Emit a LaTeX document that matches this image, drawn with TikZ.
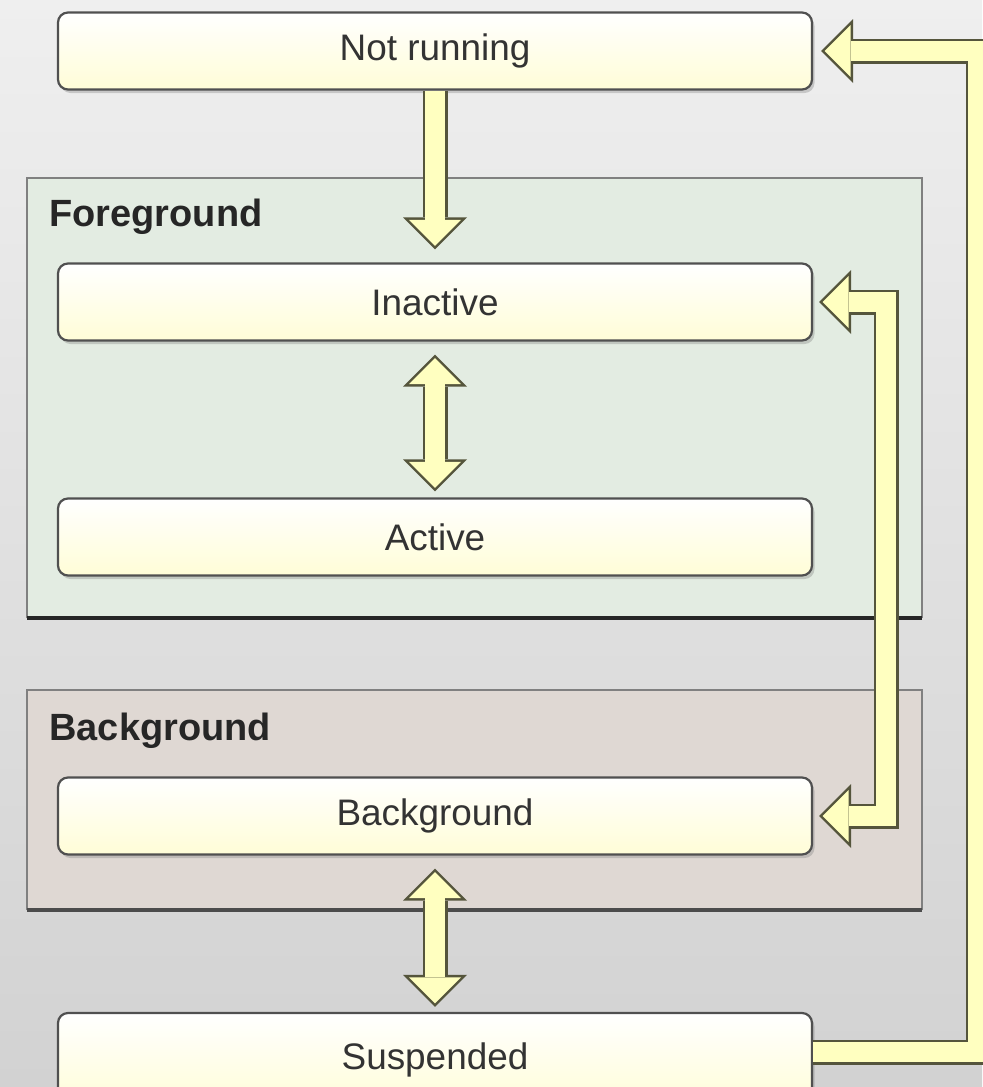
\documentclass[tikz,border=0pt]{standalone}
\usepackage{fontspec}
\setmainfont{Liberation Sans}
\usetikzlibrary{arrows.meta,shadows}

\definecolor{pagetop}{RGB}{239,239,239}
\definecolor{pagebottom}{RGB}{210,210,210}
\definecolor{fgcolor}{RGB}{227,236,226}
\definecolor{bgcolor}{RGB}{223,216,211}
\definecolor{boxline}{RGB}{80,80,80}
\definecolor{boxfill}{RGB}{255,253,215}
\definecolor{arrowfill}{RGB}{255,255,192}
\definecolor{arrowline}{RGB}{85,85,60}

\tikzset{
  state/.style={rounded corners=1mm, draw=boxline, line width=0.22mm,
    top color=white, bottom color=boxfill, text=black!80,
    minimum width=75.4mm, minimum height=7.7mm,
    font=\fontsize{10.5}{13}\selectfont,
    drop shadow={shadow xshift=0.25mm, shadow yshift=-0.35mm, opacity=0.35}},
  panellabel/.style={anchor=west, text=black!85, font=\fontsize{10.8}{13}\selectfont\bfseries},
  outtip/.tip={Triangle[length=3.2mm, width=6.4mm, line width=0pt]},
  intip/.tip={Triangle[length=2.6mm, width=5.2mm, line width=0pt]},
  fat/.style={draw=arrowfill, line width=2mm, shorten >=0.35mm, -intip,
    preaction={draw=arrowline, line width=2.5mm, shorten >=0pt, -outtip}},
  fatboth/.style={draw=arrowfill, line width=2mm, shorten >=0.35mm, shorten <=0.35mm, intip-intip,
    preaction={draw=arrowline, line width=2.5mm, shorten >=0pt, shorten <=0pt, outtip-outtip}},
}

\begin{document}
\begin{tikzpicture}[x=0.1mm,y=-0.1mm]
    \useasboundingbox (0,0) rectangle (982,1087);
    \shade[top color=pagetop, bottom color=pagebottom] (0,0) rectangle (982,1087);

    \fill[fgcolor] (27,178) rectangle (922,618);
    \draw[gray, line width=0.2mm] (27,618) -- (27,178) -- (922,178) -- (922,618);
    \draw[black!85, line width=0.35mm] (27,618) -- (922,618);
    \fill[bgcolor] (27,690) rectangle (922,910);
    \draw[gray, line width=0.2mm] (27,910) -- (27,690) -- (922,690) -- (922,910);
    \draw[black!70, line width=0.35mm] (27,910) -- (922,910);

    \draw node at (37,217)[name=fglabel, panellabel]{Foreground};
    \draw node at (37,731)[name=bglabel, panellabel]{Background};

    \draw node at (435,51)[name=notrunning, state]{Not running};
    \draw node at (435,302)[name=inactive, state]{Inactive};
    \draw node at (435,537)[name=active, state]{Active};
    \draw node at (435,816)[name=background, state]{Background};
    \draw node at (435,1060)[name=suspended, state, minimum height=9.4mm]{Suspended};

    \draw[fat] (notrunning.south) -- ([yshift=1.3mm]inactive.north);
    \draw[fatboth] ([yshift=-1.3mm]inactive.south) -- ([yshift=0.6mm]active.north);
    \draw[fatboth] ([yshift=-1.3mm]background.south) -- ([yshift=0.5mm]suspended.north);
    \draw[fatboth] ([xshift=0.6mm]inactive.east) -| (886,560) |- ([xshift=0.6mm]background.east);
    \draw[fat] ([yshift=0.8mm]suspended.east) -| (978,560) |- ([xshift=0.8mm]notrunning.east);
\end{tikzpicture}
\end{document}
